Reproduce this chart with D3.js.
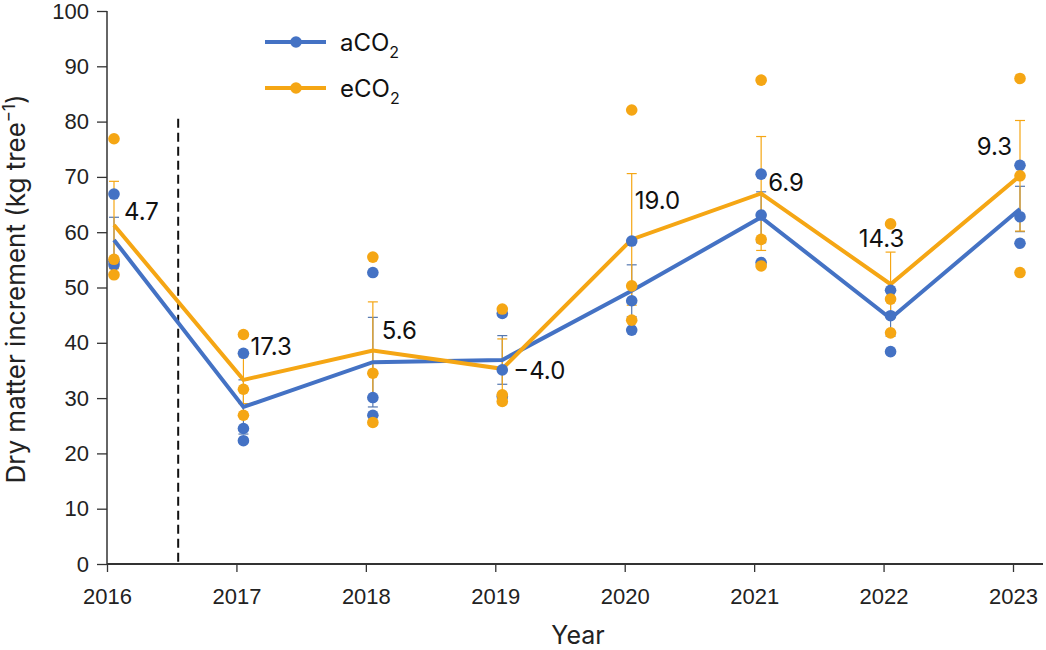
<!DOCTYPE html>
<html>
<head>
<meta charset="utf-8">
<script src="https://cdn.jsdelivr.net/npm/d3@7"></script>
<style>
  body { margin: 0; background: #fff; }
  svg { font-family: "Inter", "Noto Sans", sans-serif; }
</style>
</head>
<body>
<div id="chart"></div>
<script>
// Data
var years = [2016, 2017, 2018, 2019, 2020, 2021, 2022, 2023];

// treatment means
var aMean = [58.6, 28.4, 36.5, 36.9, 49.4, 62.7, 44.4, 64.2];
var eMean = [61.3, 33.3, 38.6, 35.3, 58.7, 67.0, 50.6, 70.2];

// standard errors
var aSE = [4.1, 4.9, 8.1, 4.4, 4.7, 4.6, 3.2, 4.1];
var eSE = [7.9, 4.3, 8.8, 5.4, 11.9, 10.3, 5.8, 10.0];

// individual replicates (3 per year)
var aReps = [
  [66.9, 54.7, 54.1],
  [38.1, 24.5, 22.3],
  [52.7, 30.1, 26.9],
  [45.3, 35.1, 30.3],
  [58.4, 47.6, 42.3],
  [70.5, 63.1, 54.5],
  [49.5, 44.9, 38.4],
  [72.1, 62.8, 58.0]
];
var eReps = [
  [76.9, 55.1, 52.3],
  [41.5, 31.6, 26.9],
  [55.5, 34.5, 25.6],
  [46.1, 30.6, 29.4],
  [82.1, 50.3, 44.1],
  [87.5, 58.7, 53.9],
  [61.5, 47.9, 41.8],
  [87.8, 70.2, 52.7]
];

// % increase labels
var pctLabels = ["4.7", "17.3", "5.6", "\u22124.0", "19.0", "6.9", "14.3", "9.3"];

var yTicks = [0, 10, 20, 30, 40, 50, 60, 70, 80, 90, 100];
var treatmentStart = 2016.55;

// layout of the labels (offset in px, height in data units, anchor)
var labelLayout = [
  { dx: 10, v: 63.7, anchor: "start" },
  { dx: 7, v: 39.4, anchor: "start" },
  { dx: 9, v: 42.3, anchor: "start" },
  { dx: 11, v: 35.1, anchor: "start" },
  { dx: 3, v: 65.8, anchor: "start" },
  { dx: 7, v: 69.1, anchor: "start" },
  { dx: -9, v: 58.9, anchor: "middle" },
  { dx: -8, v: 75.6, anchor: "end" }
];

var blue = "#4472C4";
var orange = "#F5A614";

var svgWidth = 1046;
var svgHeight = 650;
var margin = { top: 11, right: 33, bottom: 86, left: 107 };
var chartWidth = svgWidth - margin.left - margin.right;
var chartHeight = svgHeight - margin.top - margin.bottom;
var pointShift = 7;

var svg = d3.select("#chart")
  .append("svg")
  .attr("width", svgWidth)
  .attr("height", svgHeight);

var chartGroup = svg.append("g")
  .attr("transform", `translate(${margin.left}, ${margin.top})`);

var xScale = d3.scaleLinear()
  .domain([2016, 2023])
  .range([0, 906]);

var yScale = d3.scaleLinear()
  .domain([0, 100])
  .range([chartHeight, 0]);

function px(i) { return xScale(years[i]) + pointShift; }

// axes
var leftAxis = d3.axisLeft(yScale)
  .tickValues(yTicks)
  .tickSize(10)
  .tickPadding(8)
  .tickSizeOuter(0);

var bottomAxis = d3.axisBottom(xScale)
  .tickValues(years)
  .tickFormat(d3.format("d"))
  .tickSize(8)
  .tickPadding(16)
  .tickSizeOuter(0);

var yAxisG = chartGroup.append("g").call(leftAxis);
yAxisG.select(".domain").remove();
yAxisG.selectAll("line").attr("stroke", "#333").attr("stroke-width", 1.3);
yAxisG.selectAll("text").attr("font-size", 22).attr("fill", "#222");

var xAxisG = chartGroup.append("g")
  .attr("transform", `translate(0, ${chartHeight})`)
  .call(bottomAxis);
xAxisG.select(".domain").remove();
xAxisG.selectAll("line").attr("stroke", "#333").attr("stroke-width", 1.3);
xAxisG.selectAll("text").attr("font-size", 22).attr("fill", "#222");

chartGroup.append("line")
  .attr("x1", 0).attr("x2", 0)
  .attr("y1", 0).attr("y2", chartHeight)
  .attr("stroke", "#333").attr("stroke-width", 1.5);

chartGroup.append("line")
  .attr("x1", 0).attr("x2", svgWidth - margin.left - 3)
  .attr("y1", chartHeight).attr("y2", chartHeight)
  .attr("stroke", "#333").attr("stroke-width", 2);

// treatment start marker
chartGroup.append("line")
  .attr("x1", xScale(treatmentStart)).attr("x2", xScale(treatmentStart))
  .attr("y1", yScale(80.5)).attr("y2", chartHeight)
  .attr("stroke", "#111")
  .attr("stroke-width", 2)
  .attr("stroke-dasharray", "9,5");

// error bars
function errorBars(means, se, color) {
  var g = chartGroup.append("g")
    .attr("stroke", color)
    .attr("stroke-width", 1.2);
  g.selectAll(".stem")
    .data(means)
    .enter()
    .append("line")
    .attr("x1", (d, i) => px(i))
    .attr("x2", (d, i) => px(i))
    .attr("y1", (d, i) => yScale(d + se[i]))
    .attr("y2", (d, i) => yScale(d - se[i]));
  [1, -1].forEach(function(sign) {
    g.selectAll(".cap" + sign)
      .data(means)
      .enter()
      .append("line")
      .attr("x1", (d, i) => px(i) - 5)
      .attr("x2", (d, i) => px(i) + 5)
      .attr("y1", (d, i) => yScale(d + sign * se[i]))
      .attr("y2", (d, i) => yScale(d + sign * se[i]));
  });
}
errorBars(aMean, aSE, "#5578b0");
errorBars(eMean, eSE, orange);

// mean lines
var line = d3.line()
  .x((d, i) => px(i))
  .y(d => yScale(d));

chartGroup.append("path")
  .datum(aMean)
  .attr("d", line)
  .attr("fill", "none")
  .attr("stroke", blue)
  .attr("stroke-width", 4);

chartGroup.append("path")
  .datum(eMean)
  .attr("d", line)
  .attr("fill", "none")
  .attr("stroke", orange)
  .attr("stroke-width", 4);

// replicate points
function repPoints(reps, color) {
  var flat = [];
  reps.forEach(function(r, i) {
    r.forEach(function(v) { flat.push({ i: i, v: v }); });
  });
  chartGroup.append("g")
    .selectAll("circle")
    .data(flat)
    .enter()
    .append("circle")
    .attr("cx", d => px(d.i))
    .attr("cy", d => yScale(d.v))
    .attr("r", 5.8)
    .attr("fill", color);
}
repPoints(aReps, blue);
repPoints(eReps, orange);

// percentage labels
chartGroup.append("g")
  .selectAll("text")
  .data(pctLabels)
  .enter()
  .append("text")
  .attr("x", (d, i) => px(i) + labelLayout[i].dx)
  .attr("y", (d, i) => yScale(labelLayout[i].v))
  .attr("dy", "0.36em")
  .attr("text-anchor", (d, i) => labelLayout[i].anchor)
  .attr("font-size", 24)
  .attr("fill", "#111")
  .text(d => d);

// legend
var legend = svg.append("g");
var legendItems = [
  { name: "aCO", color: blue, y: 42 },
  { name: "eCO", color: orange, y: 88 }
];
legendItems.forEach(function(item) {
  legend.append("line")
    .attr("x1", 265).attr("x2", 326)
    .attr("y1", item.y).attr("y2", item.y)
    .attr("stroke", item.color)
    .attr("stroke-width", 4);
  legend.append("circle")
    .attr("cx", 296).attr("cy", item.y)
    .attr("r", 5.8)
    .attr("fill", item.color);
  var t = legend.append("text")
    .attr("x", 340).attr("y", item.y)
    .attr("dy", "0.36em")
    .attr("font-size", 24)
    .attr("fill", "#111");
  t.append("tspan").text(item.name);
  t.append("tspan").attr("font-size", 16).attr("dy", 7).text("2");
});

// axis titles
svg.append("text")
  .attr("x", 578)
  .attr("y", 644)
  .attr("text-anchor", "middle")
  .attr("font-size", 25)
  .attr("fill", "#222")
  .text("Year");

var yTitle = svg.append("text")
  .attr("transform", "translate(25, 289) rotate(-90)")
  .attr("text-anchor", "middle")
  .attr("font-size", 26)
  .attr("fill", "#222");
yTitle.append("tspan").text("Dry matter increment (kg tree");
yTitle.append("tspan").attr("font-size", 17).attr("dy", -10).text("\u22121");
yTitle.append("tspan").attr("dy", 10).text(")");
</script>
</body>
</html>
